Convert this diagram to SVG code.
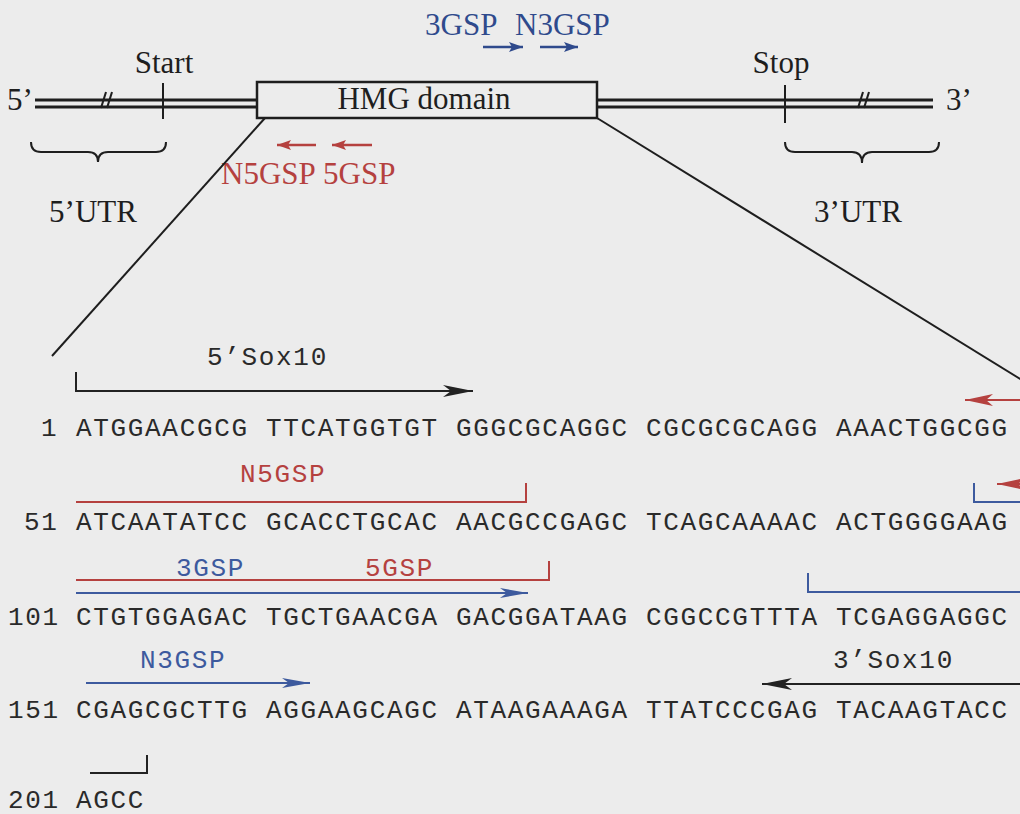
<svg xmlns="http://www.w3.org/2000/svg" width="1020" height="814" viewBox="0 0 1020 814">
<defs>
<style>
.serif{font-family:"Liberation Serif","Times New Roman",serif;font-size:31px;fill:#1e1e1e}
.mono{font-family:"Liberation Mono","Courier New",monospace;font-size:26px;letter-spacing:1.67px;fill:#2a2a2a}
.red{fill:#b5413f}
.blue{fill:#3d5a9e}
.dblue{fill:#2f4a8c}
.ln{stroke:#1e1e1e;stroke-width:2;fill:none}
.rl{stroke:#b5413f;stroke-width:2;fill:none}
.bl{stroke:#3d5a9e;stroke-width:2;fill:none}
.kl{stroke:#222;stroke-width:2;fill:none}
</style>
<marker id="hsr" markerUnits="userSpaceOnUse" viewBox="0 0 14 10" markerWidth="14" markerHeight="10" refX="14" refY="5" orient="auto"><path d="M0,0 L14,5 L0,10 L3,5 z" fill="#b5413f"/></marker>
<marker id="hsb" markerUnits="userSpaceOnUse" viewBox="0 0 14 10" markerWidth="14" markerHeight="10" refX="14" refY="5" orient="auto"><path d="M0,0 L14,5 L0,10 L3,5 z" fill="#2f4a8c"/></marker>
<marker id="hlk" markerUnits="userSpaceOnUse" viewBox="0 0 30 12" markerWidth="30" markerHeight="12" refX="30" refY="6" orient="auto"><path d="M0,0 L30,6 L0,12 L8,6 z" fill="#222"/></marker>
<marker id="hlr" markerUnits="userSpaceOnUse" viewBox="0 0 28 12" markerWidth="28" markerHeight="12" refX="28" refY="6" orient="auto"><path d="M0,0 L28,6 L0,12 L7,6 z" fill="#b5413f"/></marker>
<marker id="hlb" markerUnits="userSpaceOnUse" viewBox="0 0 28 10" markerWidth="28" markerHeight="10" refX="28" refY="5" orient="auto"><path d="M0,0 L28,5 L0,10 L7,5 z" fill="#3d5a9e"/></marker>
</defs>
<rect width="1020" height="814" fill="#ececec"/>

<g id="gene-map">
<g id="dna-left">
<line x1="35" y1="100" x2="257" y2="100" stroke="#1e1e1e" stroke-width="3"/>
<line x1="35" y1="107" x2="257" y2="107" stroke="#1e1e1e" stroke-width="3"/>
<line x1="101" y1="108" x2="106" y2="92" class="ln" stroke-width="1.5"/>
<line x1="107" y1="108" x2="112" y2="92" class="ln" stroke-width="1.5"/>
</g>
<g id="dna-right">
<line x1="597" y1="100" x2="933" y2="100" stroke="#1e1e1e" stroke-width="3"/>
<line x1="597" y1="107" x2="933" y2="107" stroke="#1e1e1e" stroke-width="3"/>
<line x1="858" y1="108" x2="863" y2="92" class="ln" stroke-width="1.5"/>
<line x1="864" y1="108" x2="869" y2="92" class="ln" stroke-width="1.5"/>
</g>
<g id="start"><line x1="163" y1="83" x2="163" y2="119" class="ln"/><text class="serif" x="164" y="73" text-anchor="middle">Start</text></g>
<g id="stop"><line x1="785" y1="85" x2="785" y2="123" class="ln"/><text class="serif" x="781" y="73" text-anchor="middle">Stop</text></g>
<g id="hmg"><rect x="257" y="82" width="340" height="36" fill="#ececec" stroke="#1e1e1e" stroke-width="2.5"/><text class="serif" x="424" y="109" text-anchor="middle">HMG domain</text></g>
<text id="end5" class="serif" x="7" y="110">5’</text>
<text id="end3" class="serif" x="946" y="110">3’</text>
<g id="utr5"><path class="ln" d="M31,142 Q31,152 41,152 L88,152 Q98,152 98,162 Q98,152 108,152 L156,152 Q166,152 166,142"/><text class="serif" x="93" y="222" text-anchor="middle">5’UTR</text></g>
<g id="utr3"><path class="ln" d="M785,142 Q785,152 795,152 L852,152 Q862,152 862,163 Q862,152 872,152 L929,152 Q939,152 939,142"/><text class="serif" x="858" y="222" text-anchor="middle">3’UTR</text></g>
<g id="primers-top">
<text class="serif dblue" x="425" y="35">3GSP</text>
<text class="serif dblue" x="515" y="35">N3GSP</text>
<line x1="483" y1="47" x2="523" y2="47" stroke="#2f4a8c" stroke-width="2.5" marker-end="url(#hsb)"/>
<line x1="540" y1="47" x2="578" y2="47" stroke="#2f4a8c" stroke-width="2.5" marker-end="url(#hsb)"/>
<line x1="316" y1="145" x2="277" y2="145" stroke="#b5413f" stroke-width="2.5" marker-end="url(#hsr)"/>
<line x1="372" y1="145" x2="332" y2="145" stroke="#b5413f" stroke-width="2.5" marker-end="url(#hsr)"/>
<text class="serif red" x="221" y="184">N5GSP</text>
<text class="serif red" x="323" y="184">5GSP</text>
</g>
</g>

<g id="connectors">
<line x1="265" y1="118" x2="52" y2="356" class="ln"/>
<line x1="597" y1="118" x2="1025" y2="382" class="ln"/>
</g>

<g id="sequence">
<g id="row1">
<text class="mono" x="41" y="436">1</text>
<text class="mono" x="76" y="436">ATGGAACGCG TTCATGGTGT GGGCGCAGGC CGCGCGCAGG AAACTGGCGG</text>
<text class="mono" x="207" y="365">5’Sox10</text>
<path class="kl" d="M76,372 L76,391 L473,391" marker-end="url(#hlk)"/>
<line x1="1030" y1="400" x2="965" y2="400" class="rl" marker-end="url(#hlr)"/>
</g>
<g id="row2">
<text class="mono" x="24" y="530">51</text>
<text class="mono" x="76" y="530">ATCAATATCC GCACCTGCAC AACGCCGAGC TCAGCAAAAC ACTGGGGAAG</text>
<text class="mono red" x="240" y="482">N5GSP</text>
<path class="rl" d="M76,502 L526,502 L526,483"/>
<path class="bl" d="M974,483 L974,502 L1022,502"/>
<line x1="1040" y1="484" x2="997" y2="484" class="rl" marker-end="url(#hlr)"/>
</g>
<g id="row3">
<text class="mono" x="8" y="625">101</text>
<text class="mono" x="76" y="625">CTGTGGAGAC TGCTGAACGA GACGGATAAG CGGCCGTTTA TCGAGGAGGC</text>
<text class="mono blue" x="176" y="576">3GSP</text>
<text class="mono red" x="365" y="576">5GSP</text>
<path class="rl" d="M76,580 L549,580 L549,561"/>
<line x1="76" y1="593" x2="528" y2="593" class="bl" marker-end="url(#hlb)"/>
<path class="bl" d="M808,573 L808,592 L1022,592"/>
</g>
<g id="row4">
<text class="mono" x="8" y="718">151</text>
<text class="mono" x="76" y="718">CGAGCGCTTG AGGAAGCAGC ATAAGAAAGA TTATCCCGAG TACAAGTACC</text>
<text class="mono blue" x="140" y="668">N3GSP</text>
<line x1="86" y1="683" x2="310" y2="683" class="bl" marker-end="url(#hlb)"/>
<text class="mono" x="833" y="668">3’Sox10</text>
<line x1="1025" y1="684" x2="762" y2="684" class="kl" marker-end="url(#hlk)"/>
</g>
<g id="row5">
<text class="mono" x="8" y="808">201</text>
<text class="mono" x="76" y="808">AGCC</text>
<path class="kl" d="M90,773 L147,773 L147,755"/>
</g>
</g>
</svg>
